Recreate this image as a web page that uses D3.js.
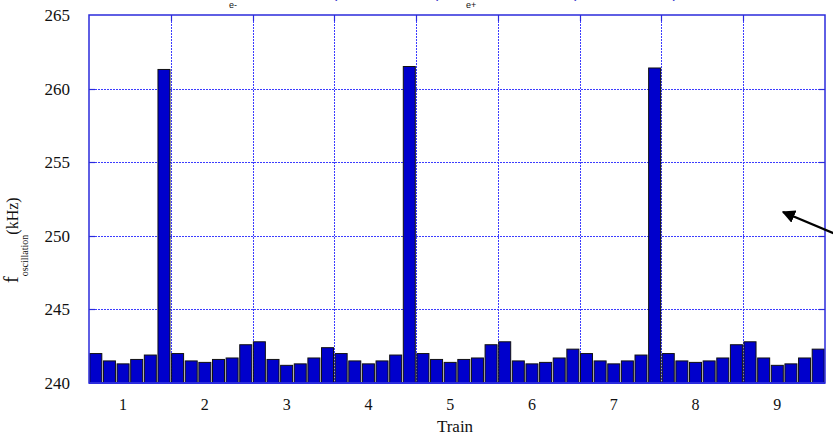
<!DOCTYPE html>
<html>
<head>
<meta charset="utf-8">
<script src="https://cdn.jsdelivr.net/npm/d3@7"></script>
<style>
  body { margin: 0; background: #fff; }
  svg { display: block; }
</style>
</head>
<body>
<script>
const width = 833, height = 438;

// oscillation frequency (kHz) per bunch, 6 bunches per train
const trains = ["1", "2", "3", "4", "5", "6", "7", "8", "9"];
const bunchesPerTrain = 6;
const freq = [
    242.0, 241.5, 241.3, 241.6, 241.9, 261.3,
    242.0, 241.5, 241.4, 241.6, 241.7, 242.6,
    242.8, 241.6, 241.2, 241.3, 241.7, 242.4,
    242.0, 241.5, 241.3, 241.5, 241.9, 261.5,
    242.0, 241.6, 241.4, 241.6, 241.7, 242.6,
    242.8, 241.5, 241.3, 241.4, 241.7, 242.3,
    242.0, 241.5, 241.3, 241.5, 241.9, 261.4,
    242.0, 241.5, 241.4, 241.5, 241.7, 242.6,
    242.8, 241.7, 241.2, 241.3, 241.7, 242.3
];
const yTicks = [240, 245, 250, 255, 260, 265];

const plotL = 89, plotR = 825, plotT = 15, plotB = 383;

const svg = d3.select("body").append("svg")
    .attr("width", width)
    .attr("height", height);

const x = d3.scaleBand()
    .domain(d3.range(freq.length))
    .range([plotL, plotR])
    .paddingInner(0.12)
    .paddingOuter(0.06);

const xTrain = d3.scaleLinear()
    .domain([0, trains.length])
    .range([plotL, plotR]);

const y = d3.scaleLinear()
    .domain([240, 265])
    .range([plotB, plotT]);

const crisp = v => Math.round(v) + 0.5;
const gridColor = "#3c3cff";
const frameColor = "#2b2bdc";

// grid
const grid = svg.append("g")
    .attr("stroke", gridColor)
    .attr("stroke-width", 1)
    .attr("stroke-dasharray", "2,1");

grid.selectAll("line.h")
    .data(yTicks.slice(1, -1))
    .enter().append("line")
    .attr("class", "h")
    .attr("x1", plotL).attr("x2", plotR)
    .attr("y1", d => crisp(y(d))).attr("y2", d => crisp(y(d)));

grid.selectAll("line.v")
    .data(d3.range(1, trains.length))
    .enter().append("line")
    .attr("class", "v")
    .attr("x1", d => crisp(xTrain(d))).attr("x2", d => crisp(xTrain(d)))
    .attr("y1", plotT).attr("y2", plotB);

// bars
svg.append("g").selectAll("rect")
    .data(freq)
    .enter().append("rect")
    .attr("x", (d, i) => x(i))
    .attr("y", d => y(d))
    .attr("width", x.bandwidth())
    .attr("height", d => y(240) - y(d))
    .attr("fill", "#0000cc")
    .attr("stroke", "#111")
    .attr("stroke-width", 1);

// inner tick marks
const tk = svg.append("g").attr("stroke", frameColor).attr("stroke-width", 1.2);
yTicks.slice(1, -1).forEach(v => {
    tk.append("line").attr("x1", plotL).attr("x2", plotL + 6).attr("y1", crisp(y(v))).attr("y2", crisp(y(v)));
    tk.append("line").attr("x1", plotR - 6).attr("x2", plotR).attr("y1", crisp(y(v))).attr("y2", crisp(y(v)));
});
d3.range(1, trains.length).forEach(k => {
    tk.append("line").attr("x1", crisp(xTrain(k))).attr("x2", crisp(xTrain(k))).attr("y1", plotT).attr("y2", plotT + 6);
});

// frame
svg.append("rect")
    .attr("x", plotL).attr("y", plotT)
    .attr("width", plotR - plotL).attr("height", plotB - plotT)
    .attr("fill", "none")
    .attr("stroke", frameColor)
    .attr("stroke-width", 1.5);
svg.append("line")
    .attr("x1", plotL).attr("x2", plotR)
    .attr("y1", plotB).attr("y2", plotB)
    .attr("stroke", frameColor)
    .attr("stroke-width", 2.2);

// y tick labels
svg.append("g").selectAll("text")
    .data(yTicks)
    .enter().append("text")
    .attr("x", 70)
    .attr("y", d => y(d) + 6)
    .attr("text-anchor", "end")
    .attr("font-family", "Liberation Serif, serif")
    .attr("font-size", 17)
    .attr("fill", "#111")
    .text(d => d);

// x tick labels (on the 3rd bunch of each train)
svg.append("g").selectAll("text")
    .data(trains)
    .enter().append("text")
    .attr("x", (d, i) => x(i * bunchesPerTrain + 2) + x.bandwidth() / 2)
    .attr("y", 410)
    .attr("text-anchor", "middle")
    .attr("font-family", "Liberation Serif, serif")
    .attr("font-size", 16)
    .attr("fill", "#111")
    .text(d => d);

svg.append("text")
    .attr("x", 455)
    .attr("y", 432)
    .attr("text-anchor", "middle")
    .attr("font-family", "Liberation Serif, serif")
    .attr("font-size", 17)
    .attr("fill", "#111")
    .text("Train");

// y axis label
const yl = svg.append("text")
    .attr("transform", "translate(18,283) rotate(-90)")
    .attr("font-family", "Liberation Serif, serif")
    .attr("fill", "#111");
yl.append("tspan").attr("font-size", 20).text("f");
yl.append("tspan").attr("font-size", 10).attr("dy", 10).text("oscillation");
yl.append("tspan").attr("font-size", 16).attr("dy", -10).text("(kHz)");

// title, cut off at the top edge as in the source
const tt = svg.append("g").attr("font-family", "Liberation Sans, sans-serif");
tt.append("text").attr("x", 221).attr("y", -2).attr("font-size", 16).attr("fill", "#111").text("f");
tt.append("text").attr("x", 229).attr("y", 8).attr("font-size", 9).attr("fill", "#111").text("e-");
tt.append("text").attr("x", 244).attr("y", -2).attr("font-size", 16).attr("fill", "#3333cc").text("= 241.7 kHz");
tt.append("text").attr("x", 332).attr("y", -2).attr("font-size", 16).attr("fill", "#3333cc").text("(HER bunches),");
tt.append("text").attr("x", 459).attr("y", -2).attr("font-size", 16).attr("fill", "#111").text("f");
tt.append("text").attr("x", 466).attr("y", 8).attr("font-size", 9).attr("fill", "#111").text("e+");
tt.append("text").attr("x", 483).attr("y", -2).attr("font-size", 16).attr("fill", "#3333cc").text("= 241.8 kHz");
tt.append("text").attr("x", 571).attr("y", -2).attr("font-size", 16).attr("fill", "#3333cc").text("(LER bunches)");

// arrow
svg.append("defs").append("marker")
    .attr("id", "head")
    .attr("viewBox", "0 0 10 10")
    .attr("refX", 9).attr("refY", 5)
    .attr("markerWidth", 6).attr("markerHeight", 6)
    .attr("markerUnits", "strokeWidth")
    .attr("orient", "auto")
    .append("path")
    .attr("d", "M0,0 L10,5 L0,10 z")
    .attr("fill", "#000");
svg.append("line")
    .attr("x1", 840).attr("y1", 236)
    .attr("x2", 783).attr("y2", 212)
    .attr("stroke", "#000")
    .attr("stroke-width", 2.2)
    .attr("marker-end", "url(#head)");
</script>
</body>
</html>
